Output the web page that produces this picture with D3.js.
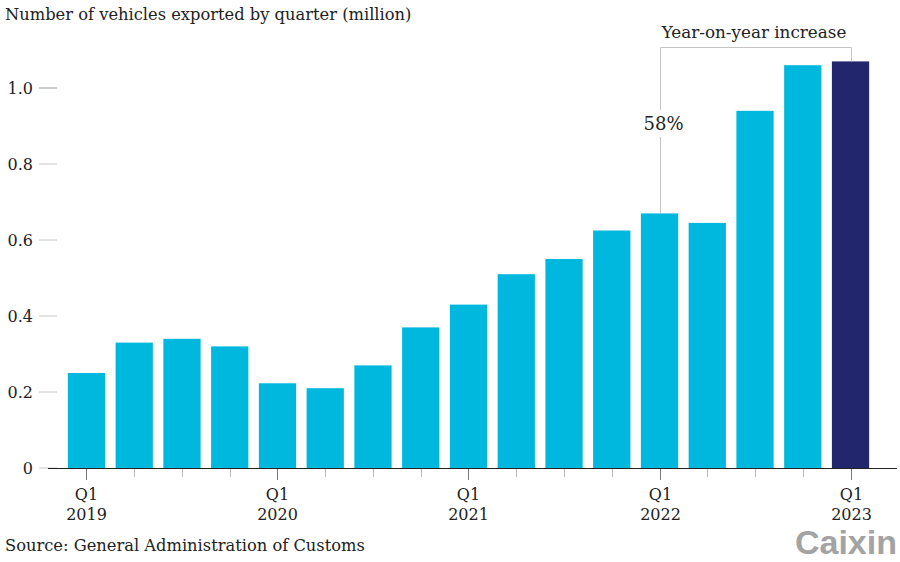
<!DOCTYPE html>
<html><head><meta charset="utf-8">
<script src="https://cdn.jsdelivr.net/npm/d3@7"></script>
<style>
body{margin:0;background:#fff;}
svg{display:block;}
text{font-family:"DejaVu Serif",serif;fill:#222;}
</style></head>
<body>
<svg id="chart" width="900" height="562"></svg>
<script>
const quarters = ["Q1 2019","Q2 2019","Q3 2019","Q4 2019","Q1 2020","Q2 2020","Q3 2020","Q4 2020","Q1 2021","Q2 2021","Q3 2021","Q4 2021","Q1 2022","Q2 2022","Q3 2022","Q4 2022","Q1 2023"];
const exportsMillion = [0.25,0.33,0.34,0.32,0.223,0.21,0.27,0.37,0.43,0.51,0.55,0.625,0.67,0.645,0.94,1.06,1.07];
const yTicks = [0,0.2,0.4,0.6,0.8,1.0];
const yTickLabels = ["0","0.2","0.4","0.6","0.8","1.0"];
const title = "Number of vehicles exported by quarter (million)";
const source = "Source: General Administration of Customs";
const annotationLabel = "Year-on-year increase";
const annotationValue = "58%";

const svg = d3.select("#chart");
const x = d3.scaleBand().domain(quarters).range([62.6, 874.4]).paddingInner(0.22).paddingOuter(0.11);
const y = d3.scaleLinear().domain([0, 1]).range([468, 88]);

// title
svg.append("text").attr("x", 5).attr("y", 20).attr("font-size", 16.3).text(title);

// y axis labels & ticks
const yg = svg.append("g");
yTicks.forEach((t, i) => {
  yg.append("text").attr("x", 33).attr("y", y(t)).attr("dy", "0.35em")
    .attr("text-anchor", "end").attr("font-size", 16).text(yTickLabels[i]);
  yg.append("line").attr("x1", 39).attr("x2", 57).attr("y1", y(t)).attr("y2", y(t))
    .attr("stroke", i === yTicks.length - 1 ? "#999" : "#c8c8c8").attr("stroke-width", 1);
});

// bars
svg.append("g").selectAll("rect").data(quarters).join("rect")
  .attr("x", d => x(d))
  .attr("width", x.bandwidth())
  .attr("y", (d, i) => y(exportsMillion[i]))
  .attr("height", (d, i) => y(0) - y(exportsMillion[i]))
  .attr("fill", (d, i) => i === quarters.length - 1 ? "#21266d" : "#00b8de");

// x axis baseline
svg.append("line").attr("x1", 48).attr("x2", 897).attr("y1", 468.5).attr("y2", 468.5)
  .attr("stroke", "#222").attr("stroke-width", 1.2);

// x ticks
const xg = svg.append("g");
quarters.forEach((q, i) => {
  const cx = Math.round(x(q) + x.bandwidth() / 2) + 0.5;
  const major = q.startsWith("Q1");
  xg.append("line").attr("x1", cx).attr("x2", cx).attr("y1", 469).attr("y2", major ? 480 : 477)
    .attr("stroke", major ? "#777" : "#bbb").attr("stroke-width", 1);
  if (major) {
    const parts = q.split(" ");
    xg.append("text").attr("x", cx).attr("y", 500).attr("text-anchor", "middle").attr("font-size", 16).text(parts[0]);
    xg.append("text").attr("x", cx).attr("y", 520).attr("text-anchor", "middle").attr("font-size", 16).text(parts[1]);
  }
});

// annotation bracket
const i0 = quarters.indexOf("Q1 2022"), i1 = quarters.indexOf("Q1 2023");
const ax0 = Math.round(x(quarters[i0]) + x.bandwidth() / 2) + 0.5;
const ax1 = Math.round(x(quarters[i1]) + x.bandwidth() / 2) + 0.5;
const topY = 47.5;
const ann = svg.append("g").attr("stroke", "#c4c4c4").attr("stroke-width", 1).attr("fill", "none");
ann.append("path").attr("d", `M${ax0},110 V${topY} H${ax1} V${y(exportsMillion[i1])}`);
ann.append("path").attr("d", `M${ax0},137 V${y(exportsMillion[i0])}`);
svg.append("text").attr("x", (ax0 + ax1) / 2 - 2).attr("y", 38).attr("text-anchor", "middle")
  .attr("font-size", 16.8).text(annotationLabel);
svg.append("text").attr("x", ax0 + 3).attr("y", 130).attr("text-anchor", "middle")
  .attr("font-size", 18).text(annotationValue);

// source
svg.append("text").attr("x", 5).attr("y", 551).attr("font-size", 16.3).text(source);

// logo
svg.append("text").attr("x", 897).attr("y", 554).attr("text-anchor", "end")
  .attr("font-weight", "bold")
  .attr("font-size", 34).style("fill", "#a3a3a3").style("font-family", "'Liberation Sans',Arial,sans-serif")
  .text("Caixin");
</script>
</body></html>
